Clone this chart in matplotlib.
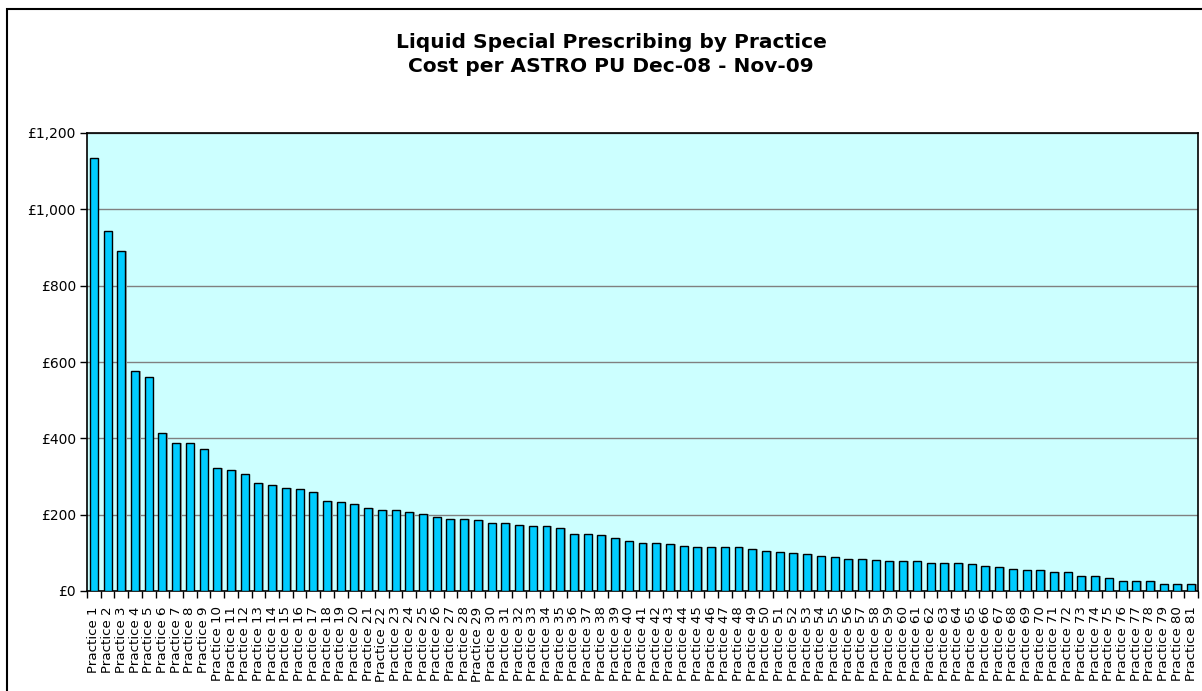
import matplotlib
matplotlib.use('Agg')
import matplotlib.pyplot as plt
from matplotlib.patches import Rectangle
from matplotlib.ticker import FuncFormatter, FixedLocator

# Cost per ASTRO PU
practices = ['Practice %d' % i for i in range(1, 82)]
cost = [1134, 943, 890, 576, 561, 414, 387, 387, 371, 321,
        317, 306, 282, 278, 271, 266, 259, 236, 232, 228,
        217, 212, 212, 208, 201, 193, 189, 189, 185, 177,
        177, 173, 169, 169, 166, 150, 150, 146, 139, 131,
        127, 127, 123, 119, 116, 116, 116, 116, 111, 104,
        103, 99, 98, 93, 89, 85, 85, 82, 78, 78,
        78, 74, 74, 74, 70, 66, 62, 58, 54, 54,
        51, 51, 38, 38, 35, 27, 27, 27, 19, 19,
        19]
y_ticks = [0, 200, 400, 600, 800, 1000, 1200]

plt.rcParams['font.family'] = ['DejaVu Sans']

fig = plt.figure(figsize=(12.02, 6.91), dpi=100)
ax = fig.add_axes([87 / 1202, 100 / 691, 1111 / 1202, 458 / 691])
ax.set_facecolor('#CCFFFF')

x = list(range(len(practices)))
# soft shadow behind the bars, like the Excel original
ax.bar([i + 0.12 for i in x], cost, width=0.58, color='#9aa8a8', linewidth=0, zorder=2)
ax.bar(x, cost, width=0.58, color='#00CCFF', edgecolor='black', linewidth=1, zorder=3)

ax.set_xlim(-0.5, len(practices) - 0.5)
ax.set_ylim(0, 1200)
ax.set_yticks(y_ticks)
ax.yaxis.set_major_formatter(FuncFormatter(lambda v, p: '£{:,.0f}'.format(v)))
ax.grid(axis='y', color='#808080', linewidth=1, zorder=1)
ax.set_axisbelow(True)

ax.set_xticks(x)
ax.set_xticklabels(practices, rotation=90, fontsize=9.6)
ax.tick_params(axis='x', length=0, pad=11)
ax.xaxis.set_minor_locator(FixedLocator([i - 0.5 for i in range(len(practices) + 1)]))
ax.tick_params(axis='x', which='minor', length=5, width=1, direction='out')
ax.tick_params(axis='y', length=5, width=1, direction='out', labelsize=10, pad=3)

for s in ax.spines.values():
    s.set_linewidth(1.2)
    s.set_color('black')

fig.text(611 / 1202, 1 - 43 / 691, 'Liquid Special Prescribing by Practice',
         ha='center', va='center', fontsize=14.5, fontweight='bold')
fig.text(611 / 1202, 1 - 67 / 691, 'Cost per ASTRO PU Dec-08 - Nov-09',
         ha='center', va='center', fontsize=14.5, fontweight='bold')

# outer chart border (cut off at right and bottom in the reference)
fig.patches.append(Rectangle((7 / 1202, -0.05), 1.2, 1.05 - 9 / 691,
                             transform=fig.transFigure, fill=False,
                             edgecolor='black', linewidth=1.5))

fig.savefig('out.png', dpi=100)
